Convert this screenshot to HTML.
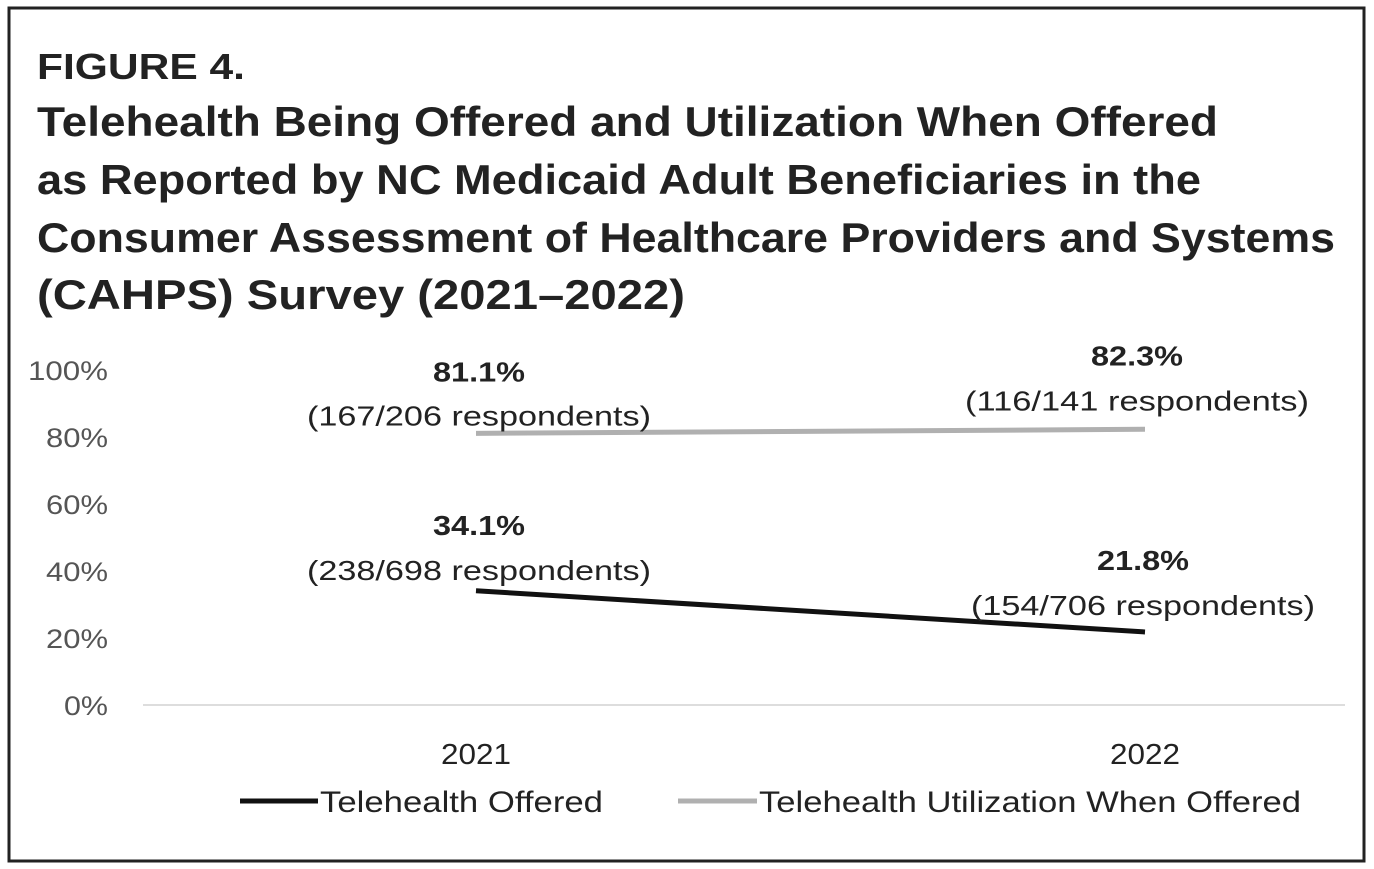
<!DOCTYPE html>
<html><head><meta charset="utf-8"><style>
html,body{margin:0;padding:0;background:#fff;}
svg{display:block;font-family:"Liberation Sans",sans-serif;}
</style></head><body>
<svg width="1374" height="869" viewBox="0 0 1374 869">
<rect x="9" y="8" width="1355" height="853" fill="#fff" stroke="#222" stroke-width="3"/>
<g font-weight="bold" fill="#222">
<text x="37" y="79" font-size="36" textLength="208" lengthAdjust="spacingAndGlyphs">FIGURE 4.</text>
<text x="37" y="136" font-size="42" textLength="1181" lengthAdjust="spacingAndGlyphs">Telehealth Being Offered and Utilization When Offered</text>
<text x="37" y="194" font-size="42" textLength="1164" lengthAdjust="spacingAndGlyphs">as Reported by NC Medicaid Adult Beneficiaries in the</text>
<text x="37" y="252" font-size="42" textLength="1298" lengthAdjust="spacingAndGlyphs">Consumer Assessment of Healthcare Providers and Systems</text>
<text x="37" y="309" font-size="42" textLength="648" lengthAdjust="spacingAndGlyphs">(CAHPS) Survey (2021–2022)</text>
</g>
<g id="chart"></g>
</svg>
<script>
const years = ["2021","2022"];
const offered = [34.1, 21.8];
const utilization = [81.1, 82.3];
const offeredLabels = ["(238/698 respondents)","(154/706 respondents)"];
const utilLabels = ["(167/206 respondents)","(116/141 respondents)"];
const yTicks = [0,20,40,60,80,100];

const NS="http://www.w3.org/2000/svg";
const g=document.getElementById('chart');
const y=v=>705-v*3.35;
const x=i=>476+i*669;
function mk(tag,attrs,text){const e=document.createElementNS(NS,tag);for(const k in attrs)e.setAttribute(k,attrs[k]);if(text!==undefined)e.textContent=text;g.appendChild(e);return e;}

yTicks.forEach(t=>{
  const s=t+'%';
  const e=mk('text',{x:108,y:y(t)+10,'text-anchor':'end','font-size':27,fill:'#555',textLength:s.length===4?80:(s.length===3?62:44),lengthAdjust:'spacingAndGlyphs'},s);
  
  
});
const base=mk('line',{x1:143,x2:1345,y1:705,y2:705,stroke:'#ddd','stroke-width':2});


years.forEach((yr,i)=>{
  const e=mk('text',{x:x(i),y:764,'text-anchor':'middle','font-size':29,fill:'#222',textLength:70,lengthAdjust:'spacingAndGlyphs'},yr);
  
  
});
const lu=mk('polyline',{points:utilization.map((v,i)=>x(i)+','+y(v)).join(' '),fill:'none',stroke:'#b0b0b0','stroke-width':5});


const lo=mk('polyline',{points:offered.map((v,i)=>x(i)+','+y(v)).join(' '),fill:'none',stroke:'#111','stroke-width':5});



function label(i,v,sub,dv,ds,dx){
  const cx=x(i)+dx;
  const a=mk('text',{x:cx,y:y(v)+dv,'text-anchor':'middle','font-size':28,'font-weight':'bold',fill:'#222',textLength:92,lengthAdjust:'spacingAndGlyphs'},v.toFixed(1)+'%');
  
  
  const b=mk('text',{x:cx,y:y(v)+ds,'text-anchor':'middle','font-size':28,fill:'#222',textLength:344,lengthAdjust:'spacingAndGlyphs'},sub);
  
  
}
label(0,utilization[0],utilLabels[0],-52,-8,3);
label(1,utilization[1],utilLabels[1],-64,-19,-8);
label(0,offered[0],offeredLabels[0],-56,-11,3);
label(1,offered[1],offeredLabels[1],-62,-17,-2);

const l1=mk('line',{x1:240,x2:318,y1:801,y2:801,stroke:'#111','stroke-width':5});


const t1=mk('text',{x:320,y:812,'font-size':30,fill:'#222',textLength:283,lengthAdjust:'spacingAndGlyphs'},'Telehealth Offered');


const l2=mk('line',{x1:678,x2:757,y1:801,y2:801,stroke:'#b0b0b0','stroke-width':5});


const t2=mk('text',{x:759,y:812,'font-size':30,fill:'#222',textLength:542,lengthAdjust:'spacingAndGlyphs'},'Telehealth Utilization When Offered');


</script>
</body></html>
